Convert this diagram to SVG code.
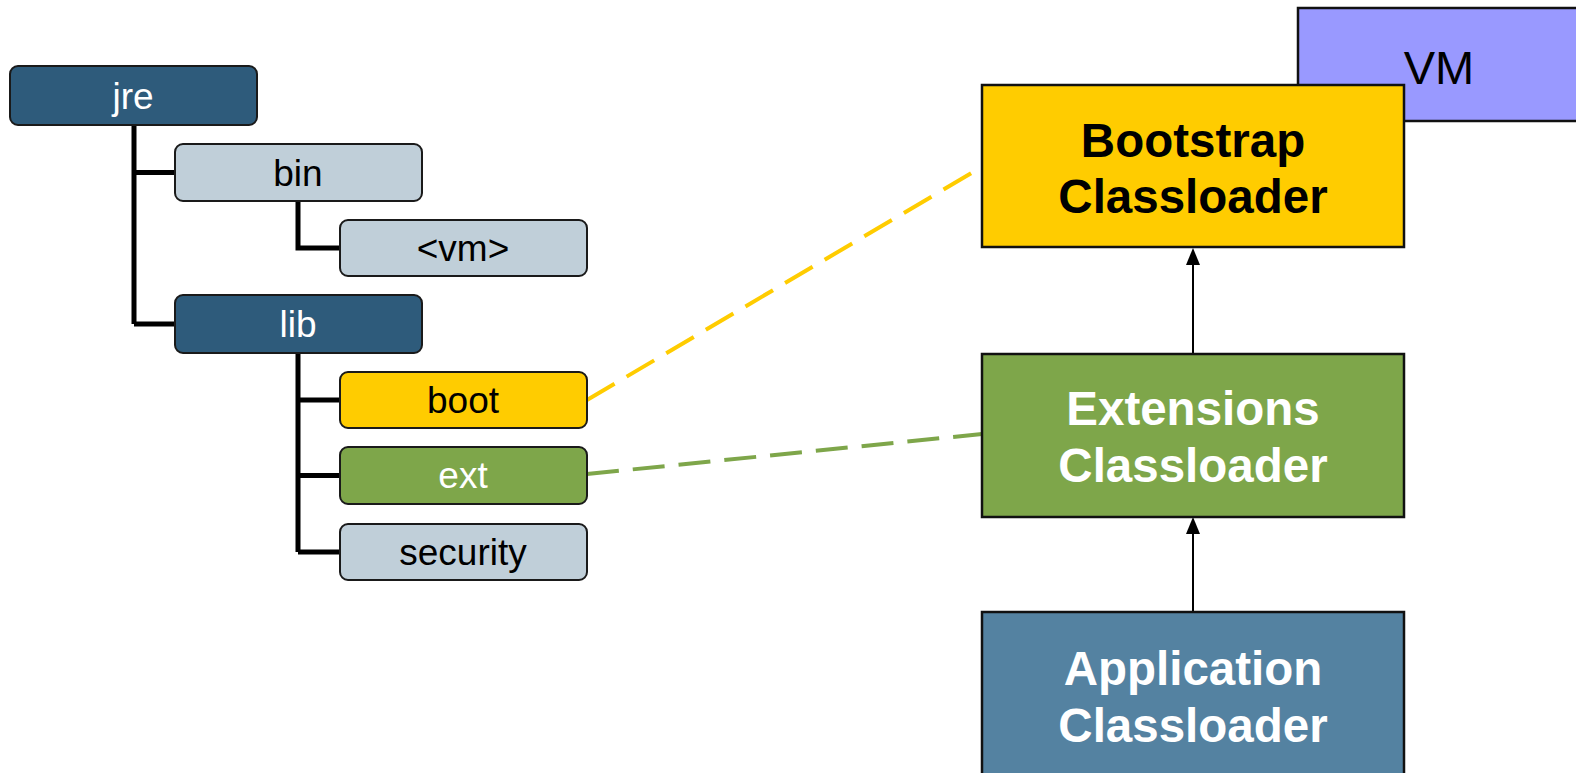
<svg xmlns="http://www.w3.org/2000/svg" width="1576" height="773" viewBox="0 0 1576 773">
<defs>
<marker id="arr" viewBox="0 0 12 16" refX="12" refY="6" markerWidth="12" markerHeight="16" markerUnits="userSpaceOnUse" orient="auto">
<path d="M0,0 L16,6 L0,12 Z" fill="#000" transform="scale(0.75,1)"/>
</marker>
<style>
.t{stroke:#1a1a1a;stroke-width:2}
.dk{fill:#2E5B7B}
.lt{fill:#C0CFD9}
.tt{font-family:"Liberation Sans",Arial,sans-serif;font-size:37px;text-anchor:middle}
.bt{font-family:"Liberation Sans",Arial,sans-serif;font-size:47.5px;font-weight:bold;text-anchor:middle}
.big{stroke:#111;stroke-width:2.5}
.tree{stroke:#000;stroke-width:5;fill:none}
</style>
</defs>
<rect width="1576" height="773" fill="#fff"/>
<g id="connectors">
<path class="tree" d="M134,125 V324 M134,172.5 H175 M134,324 H175 M298,201 V248 H340 M298,353 V552 M298,400 H340 M298,475.5 H340 M298,552 H340"/>
<line x1="587" y1="400" x2="980" y2="168" stroke="#FFCC00" stroke-width="4" stroke-dasharray="32,14"/>
<line x1="587" y1="474" x2="982" y2="434" stroke="#7EA64A" stroke-width="4" stroke-dasharray="32,14"/>
<path d="M1193,354 V262" stroke="#000" stroke-width="2"/>
<path d="M1186,265 L1193,248 L1200,265 Z" fill="#000"/>
<path d="M1193,612 V530" stroke="#000" stroke-width="2"/>
<path d="M1186,534 L1193,517 L1200,534 Z" fill="#000"/>
</g>
<g id="jre"><rect class="t dk" x="10" y="66" width="247" height="59" rx="8"/><text class="tt" x="133" y="109" fill="#fff">jre</text></g>
<g id="bin"><rect class="t lt" x="175" y="144" width="247" height="57" rx="8"/><text class="tt" x="298" y="186" fill="#000">bin</text></g>
<g id="vm"><rect class="t lt" x="340" y="220" width="247" height="56" rx="8"/><text class="tt" x="463" y="261" fill="#000">&lt;vm&gt;</text></g>
<g id="lib"><rect class="t dk" x="175" y="295" width="247" height="58" rx="8"/><text class="tt" x="298" y="337" fill="#fff">lib</text></g>
<g id="boot"><rect class="t" fill="#FFCC00" x="340" y="372" width="247" height="56" rx="8"/><text class="tt" x="463" y="413" fill="#000">boot</text></g>
<g id="ext"><rect class="t" fill="#7EA64A" x="340" y="447" width="247" height="57" rx="8"/><text class="tt" x="463" y="488" fill="#fff">ext</text></g>
<g id="security"><rect class="t lt" x="340" y="524" width="247" height="56" rx="8"/><text class="tt" x="463" y="565" fill="#000">security</text></g>
<g id="VM"><rect class="big" fill="#9999FF" x="1298" y="8" width="290" height="113"/><text x="1439" y="84" font-family="'Liberation Sans',Arial,sans-serif" font-size="47" text-anchor="middle" fill="#000">VM</text></g>
<g id="bootstrap"><rect class="big" fill="#FFCC00" x="982" y="85" width="422" height="162"/><text class="bt" x="1193" y="157" fill="#000">Bootstrap</text><text class="bt" x="1193" y="213" fill="#000">Classloader</text></g>
<g id="extensions"><rect class="big" fill="#7EA64A" x="982" y="354" width="422" height="163"/><text class="bt" x="1193" y="425" fill="#fff">Extensions</text><text class="bt" x="1193" y="482" fill="#fff">Classloader</text></g>
<g id="application"><rect class="big" fill="#5482A1" x="982" y="612" width="422" height="175"/><text class="bt" x="1193" y="685" fill="#fff">Application</text><text class="bt" x="1193" y="742" fill="#fff">Classloader</text></g>
</svg>
